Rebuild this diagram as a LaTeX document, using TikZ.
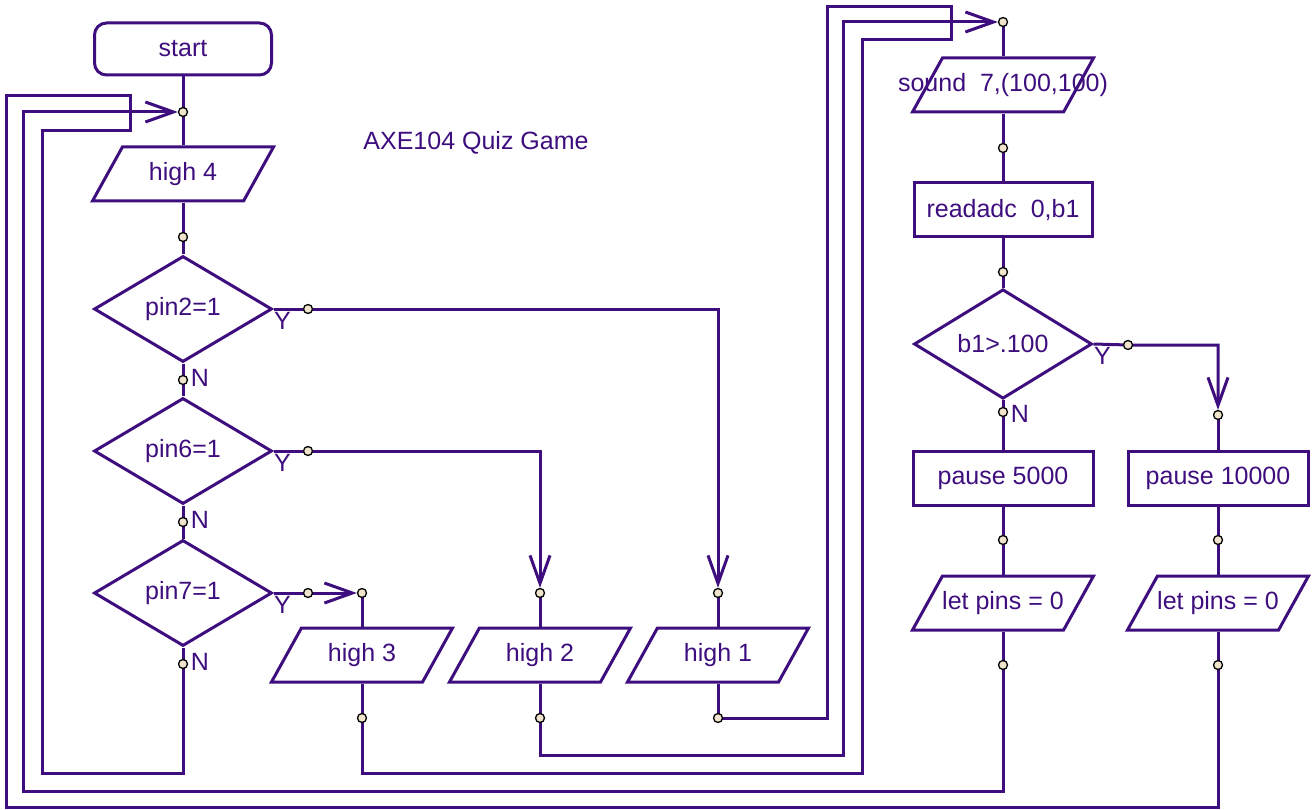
\documentclass[tikz,border=0pt]{standalone}
\usepackage{fontspec}
\setmainfont{Liberation Sans}
\usetikzlibrary{shapes.geometric, arrows.meta, calc, backgrounds}
\definecolor{axepurple}{RGB}{62,14,126}
\definecolor{dotfill}{RGB}{240,228,205}

\begin{document}
\begin{tikzpicture}[x=1pt, y=-1pt, color=axepurple, line width=3pt,
    font=\fontsize{25}{30}\selectfont,
    term/.style={draw, rectangle, rounded corners=12pt, minimum width=177pt, minimum height=52pt},
    proc/.style={draw, rectangle, minimum width=178pt, minimum height=54pt},
    io/.style={draw, trapezium, trapezium left angle=61, trapezium right angle=119,
        trapezium stretches body, minimum width=181pt, inner xsep=0pt, inner ysep=27pt},
    decide/.style={draw, diamond, minimum width=178pt, minimum height=106pt, inner sep=0pt},
    dot/.style={circle, draw=black, fill=dotfill, line width=1.3pt, inner sep=0pt, minimum size=9pt},
    lbl/.style={inner sep=0pt},
    wire/.style={draw=axepurple, line width=3pt},
    arr/.style={wire, -{Straight Barb[length=28pt, width=20pt]}}]

    \useasboundingbox (0,0) rectangle (1313,810);

    \node (title) at (476,143) {AXE104 Quiz Game};

    \node[term] (start) at (183,49) {start};
    \node[io, label={center:high 4}] (high4) at (183,174) {};
    \node[decide] (pin2) at (183,309) {pin2=1};
    \node[decide] (pin6) at (183,451) {pin6=1};
    \node[decide] (pin7) at (183,593) {pin7=1};
    \node[io, label={center:high 3}] (high3) at (362,655) {};
    \node[io, label={center:high 2}] (high2) at (540,655) {};
    \node[io, label={center:high 1}] (high1) at (718,655) {};

    \node[io, label={center:{sound\ \ 7,(100,100)}}] (sound) at (1003,85) {};
    \node[proc] (readadc) at (1003,210) {readadc\ \ 0,b1};
    \node[decide, minimum height=108pt] (b1) at (1003,344) {b1>.100};
    \node[proc, minimum width=180pt] (pause5) at (1003,478) {pause 5000};
    \node[proc, minimum width=180pt] (pause10) at (1218,478) {pause 10000};
    \node[io, label={center:{let pins = 0}}] (lp5) at (1003,603) {};
    \node[io, label={center:{let pins = 0}}] (lp10) at (1218,603) {};

    \foreach \d in {pin2,pin6,pin7,b1} {
        \node[lbl] (y\d) at ($(\d.east)+(9,12)$) {Y};
        \node[lbl] (n\d) at ($(\d.south)+(17,14)$) {N};
    }

    \foreach \n/\x/\y in {d0/183/112, d1/183/237, n1/183/380, n2/183/522, n3/183/664,
        y1/308/309, y2/308/451, y3/308/593, in3/362/593, in2/540/593, in1/718/593,
        out3/362/718, out2/540/718, out1/718/718, s0/1003/22, s1/1003/148, s2/1003/272,
        bn/1003/412, by/1128/345, in10/1218/415, p5/1003/540, p10/1218/540,
        l5/1003/665, l10/1218/665}
        \node[dot] (\n) at (\x,\y) {};

    \begin{scope}[on background layer]
        \draw[wire] (start) -- (d0.center) -- (high4) -- (d1.center) -- (pin2);
        \draw[wire] (pin2) -- (n1.center) -- (pin6) -- (n2.center) -- (pin7) -- (n3.center);
        \draw[arr] (pin2.east) -- (y1.center) -| (in1);
        \draw[arr] (pin6.east) -- (y2.center) -| (in2);
        \draw[arr] (pin7.east) -- (y3.center) -- (in3);
        \foreach \h in {1,2,3}
            \draw[wire] (in\h.center) -- (high\h) -- (out\h.center);

        \draw[wire] (s0.center) -- (sound) -- (s1.center) -- (readadc) -- (s2.center) -- (b1);
        \draw[wire] (b1) -- (bn.center) -- (pause5) -- (p5.center) -- (lp5) -- (l5.center);
        \draw[arr] (b1.east) -- (by.center) -| (in10);
        \draw[wire] (in10.center) -- (pause10) -- (p10.center) -- (lp10) -- (l10.center);

        \draw[wire] (n3.center) |- (42,773) |- (130,131) |- (6,96) |- (1218,807) -- (l10.center);
        \draw[arr] (l5.center) |- (23,791) |- (d0);
        \draw[arr] (out2.center) |- (843,755) |- (s0);
        \draw[wire] (out1.center) -| (827,7) -| (951,40) -| (862,773) -| (out3.center);
    \end{scope}
\end{tikzpicture}
\end{document}
